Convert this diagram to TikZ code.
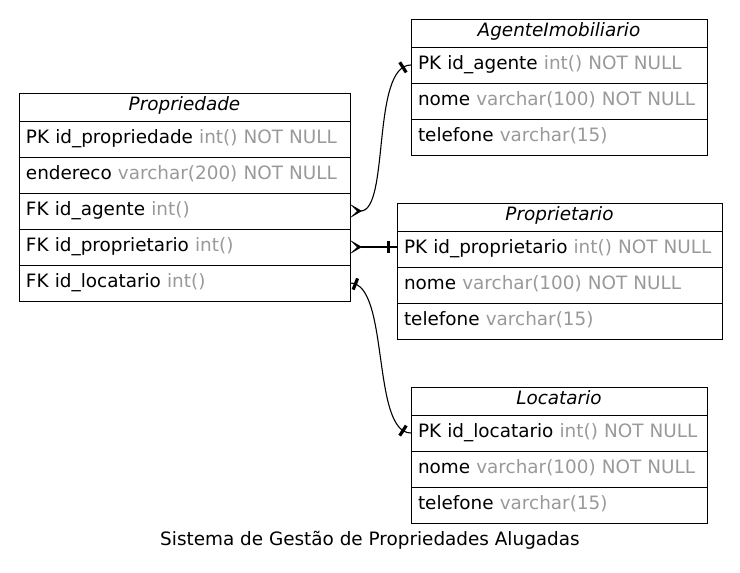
\documentclass[tikz,border=0pt]{standalone}
\usepackage{fontspec}
\setmainfont{DejaVu Sans}
\usepackage{tikz}
\usetikzlibrary{arrows.meta, positioning, decorations.markings}
\definecolor{typeGray}{RGB}{153,153,153}
\definecolor{ink}{RGB}{0,0,0}
\newcommand{\coltype}[1]{{\color{typeGray}#1}}
\newcommand{\erfont}{\fontsize{18.4}{22}\selectfont}
\tikzset{
  tableHead/.style={
    draw=ink,
    line width=1pt,
    outer sep=0pt,
    anchor=north west,
    minimum width=#1,
    minimum height=28pt,
    inner ysep=0pt,
    text height=13pt,
    text depth=7pt,
    font=\erfont\itshape
  },
  tableRow/.style={
    draw=ink,
    line width=1pt,
    outer sep=0pt,
    text width=#1,
    align=left,
    minimum height=36pt,
    inner xsep=7pt,
    inner ysep=0pt,
    text height=14pt,
    text depth=6pt,
    font=\erfont,
    execute at begin node=\hbox\bgroup,
    execute at end node=\egroup
  },
  relLine/.style={line width=1.1pt, draw=ink},
  crowStart/.style={{Stealth[reversed, length=12pt, width=14pt, inset=7pt]}-},
  teeEnd/.style={postaction={decorate, decoration={markings,
    mark=at position -8.5pt with {\fill[ink] (-1.6pt,-6pt) rectangle (1.6pt,6pt);}}}},
  teeStart/.style={postaction={decorate, decoration={markings,
    mark=at position 5.5pt with {\fill[ink] (-1.6pt,-6pt) rectangle (1.6pt,6pt);}}}},
  caption/.style={font=\erfont, anchor=base}
}
\begin{document}
\begin{tikzpicture}[x=1pt, y=-1pt]
  \useasboundingbox (0,0) rectangle (740,573);

  % Propriedade
  \node[tableHead=331pt] (propHead) at (19,93) {Propriedade};
  \node[tableRow=317pt, below=0pt of propHead] (propPk) {PK id\_propriedade \coltype{int() NOT NULL}};
  \node[tableRow=317pt, below=0pt of propPk] (propAddr) {endereco \coltype{varchar(200) NOT NULL}};
  \node[tableRow=317pt, below=0pt of propAddr] (propAgent) {FK id\_agente \coltype{int()}};
  \node[tableRow=317pt, below=0pt of propAgent] (propOwner) {FK id\_proprietario \coltype{int()}};
  \node[tableRow=317pt, below=0pt of propOwner] (propTenant) {FK id\_locatario \coltype{int()}};

  % AgenteImobiliario
  \node[tableHead=296pt] (agentHead) at (411,19) {AgenteImobiliario};
  \node[tableRow=282pt, below=0pt of agentHead] (agentPk) {PK id\_agente \coltype{int() NOT NULL}};
  \node[tableRow=282pt, below=0pt of agentPk] (agentName) {nome \coltype{varchar(100) NOT NULL}};
  \node[tableRow=282pt, below=0pt of agentName] (agentPhone) {telefone \coltype{varchar(15)}};

  % Proprietario
  \node[tableHead=325pt] (ownerHead) at (397,203) {Proprietario};
  \node[tableRow=311pt, below=0pt of ownerHead] (ownerPk) {PK id\_proprietario \coltype{int() NOT NULL}};
  \node[tableRow=311pt, below=0pt of ownerPk] (ownerName) {nome \coltype{varchar(100) NOT NULL}};
  \node[tableRow=311pt, below=0pt of ownerName] (ownerPhone) {telefone \coltype{varchar(15)}};

  % Locatario
  \node[tableHead=296pt] (tenantHead) at (411,387) {Locatario};
  \node[tableRow=282pt, below=0pt of tenantHead] (tenantPk) {PK id\_locatario \coltype{int() NOT NULL}};
  \node[tableRow=282pt, below=0pt of tenantPk] (tenantName) {nome \coltype{varchar(100) NOT NULL}};
  \node[tableRow=282pt, below=0pt of tenantName] (tenantPhone) {telefone \coltype{varchar(15)}};

  \node[caption] (diagramTitle) at (370,545) {Sistema de Gestão de Propriedades Alugadas};

  \draw[relLine, crowStart, teeEnd] (propAgent.east) .. controls +(40,0) and +(-40,0) .. (agentPk.west);
  \draw[relLine, crowStart, teeEnd] (propOwner.east) -- (propOwner.east -| ownerPk.west);
  \draw[relLine, teeStart, teeEnd] (propTenant.east) .. controls +(40,0) and +(-40,0) .. (tenantPk.west);
\end{tikzpicture}
\end{document}
